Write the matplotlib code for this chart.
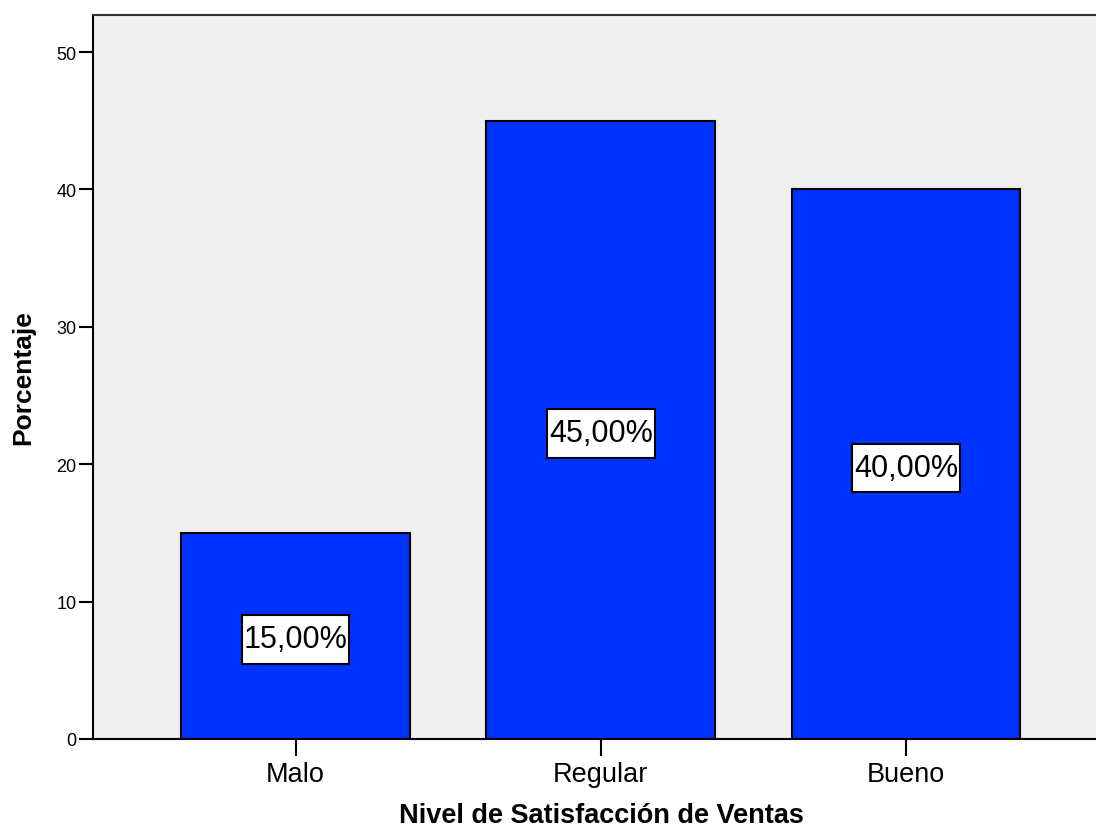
import matplotlib
matplotlib.use("Agg")
import matplotlib.pyplot as plt
from matplotlib.path import Path
from matplotlib.transforms import offset_copy

plt.rcParams['font.family'] = ['Liberation Sans', 'DejaVu Sans']

categories = ["Malo", "Regular", "Bueno"]
percentages = [15.0, 45.0, 40.0]
value_labels = ["15,00%", "45,00%", "40,00%"]
y_ticks = [0, 10, 20, 30, 40, 50]


def label_box(x0, y0, width, height, mutation_size):
    """Rectangle with separate horizontal and vertical padding."""
    px = 0.06 * mutation_size
    py = 0.30 * mutation_size
    x0, y0 = x0 - px, y0 - py
    x1, y1 = x0 + width + 2 * px, y0 + height + 2 * py
    return Path([(x0, y0), (x1, y0), (x1, y1), (x0, y1), (x0, y0)],
                closed=True)


fig = plt.figure(figsize=(10.96, 8.28), dpi=100)
ax = fig.add_axes([93 / 1096, 1 - 740 / 828, 1 - 93 / 1096 + 0.002, (740 - 16) / 828])
ax.set_facecolor("#EFEFEF")

x = list(range(len(categories)))
ax.bar(x, percentages, width=0.75, color="#0033FF", edgecolor="black", linewidth=1.5, zorder=2)

label_trans = offset_copy(ax.transData, fig=fig, x=0, y=-2.5, units="points")
for xi, val, lab in zip(x, percentages, value_labels):
    ax.text(xi, val / 2, lab, ha="center", va="center", fontsize=22, zorder=3,
            transform=label_trans,
            bbox=dict(boxstyle=label_box, facecolor="white", edgecolor="black", linewidth=1.5))

ax.set_xlim(-0.664, 2.63)
ax.set_ylim(0, 52.7)
ax.set_xticks(x)
ax.set_xticklabels(categories, fontsize=19.5)
ax.set_yticks(y_ticks)
ax.set_yticklabels([str(t) for t in y_ticks], fontsize=13)

ax.tick_params(axis="y", length=10, width=1.5, pad=2, direction="out")
ax.tick_params(axis="x", length=12, width=1.5, pad=4, direction="out")

for side in ["left", "bottom", "top"]:
    ax.spines[side].set_linewidth(1.5)
    ax.spines[side].set_color("black")
ax.spines["right"].set_visible(False)
ax.spines["top"].set_color("#333333")

ax.set_xlabel("Nivel de Satisfacción de Ventas", fontsize=19.5, fontweight="bold")
ax.xaxis.label.set_va("baseline")
ax.xaxis.set_label_coords(0.506, -0.1146)
ax.set_ylabel("Porcentaje", fontsize=19, fontweight="bold", labelpad=15)

fig.savefig("out.png", dpi=100)
